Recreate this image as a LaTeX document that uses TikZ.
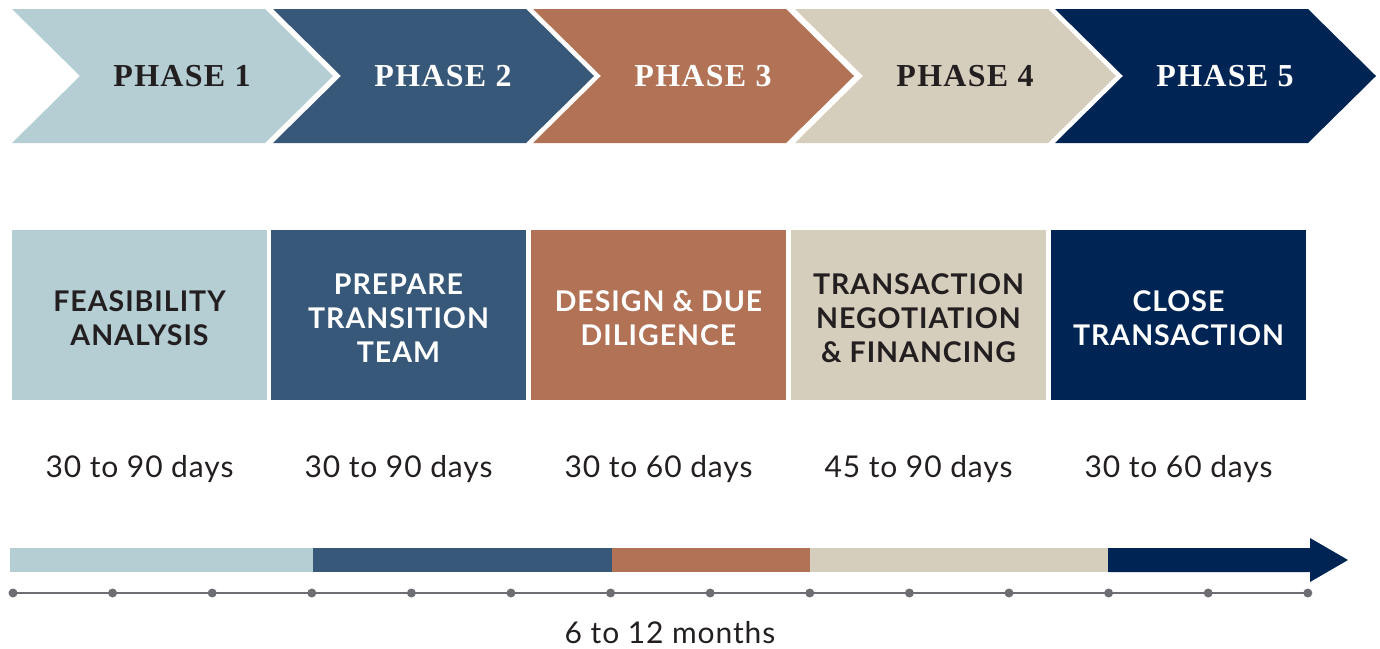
\documentclass[tikz,border=0pt]{standalone}
\usepackage{fontspec}
\setmainfont[LetterSpace=4]{Liberation Serif}
\newfontfamily\labelfont[LetterSpace=3.5]{Lato}
\newfontfamily\dayfont[LetterSpace=3]{Lato}
\usetikzlibrary{calc}

\definecolor{paleblue}{HTML}{B5CED4}
\definecolor{slateblue}{HTML}{38587A}
\definecolor{clay}{HTML}{B17256}
\definecolor{sand}{HTML}{D6CEBC}
\definecolor{navy}{HTML}{002554}
\definecolor{ink}{HTML}{231F20}
\definecolor{tickgray}{HTML}{6D6E71}

\tikzset{
  phasetext/.style={font=\fontsize{32}{34}\selectfont\bfseries, inner sep=0pt, anchor=center},
  boxtext/.style={font=\labelfont\fontsize{28.5}{34}\selectfont\bfseries, align=center, inner sep=0pt},
  daytext/.style={font=\dayfont\fontsize{30}{34}\selectfont, text=ink, inner sep=0pt},
  tick/.style={circle, fill=tickgray, minimum size=9pt, inner sep=0pt},
}

\begin{document}
\begin{tikzpicture}[x=1pt, y=-1pt]
\useasboundingbox (0,0) rectangle (1380,648);

% chevrons: left edge L, width 253, point depth 68, from y=9 to y=143
\foreach \i/\L/\col/\txt in {1/12/paleblue/ink, 2/273/slateblue/white, 3/533/clay/white, 4/795/sand/ink, 5/1055/navy/white}{
  \fill[\col] (\L,9) -- ({\L+253},9) -- ({\L+321},76) -- ({\L+253},143)
              -- (\L,143) -- ({\L+68},76) -- cycle;
  \node[phasetext, text=\txt] (ph\i) at ({\L+170},76) {PHASE \i};
}

% phase boxes
\foreach \i/\L/\col/\txt/\lab in {
  1/12/paleblue/ink/{FEASIBILITY\\ANALYSIS},
  2/271/slateblue/white/{PREPARE\\TRANSITION\\TEAM},
  3/531/clay/white/{DESIGN \& DUE\\DILIGENCE},
  4/791/sand/ink/{TRANSACTION\\NEGOTIATION\\\& FINANCING},
  5/1051/navy/white/{CLOSE\\TRANSACTION}}{
  \fill[\col] (\L,230) rectangle ({\L+255},400);
  \node[boxtext, text=\txt] (box\i) at ({\L+127.5},318) {\lab};
}

% durations
\node[daytext] (d1) at (139.5,469) {30 to 90 days};
\node[daytext] (d2) at (398.5,469) {30 to 90 days};
\node[daytext] (d3) at (658.5,469) {30 to 60 days};
\node[daytext] (d4) at (918.5,469) {45 to 90 days};
\node[daytext] (d5) at (1178.5,469) {30 to 60 days};

% timeline bar with arrow head
\fill[paleblue] (10,548) rectangle (313,572);
\fill[slateblue] (313,548) rectangle (612,572);
\fill[clay] (612,548) rectangle (810,572);
\fill[sand] (810,548) rectangle (1108,572);
\fill[navy] (1108,548) -- (1310,548) -- (1310,538) -- (1348,560) -- (1310,582)
            -- (1310,572) -- (1108,572) -- cycle;

% month scale
\foreach \k in {0,...,13}{
  \node[tick] (t\k) at ({13+\k*99.6},593) {};
}
\draw[tickgray, line width=2pt] (t0.center) -- (t13.center);
\node[daytext] (span) at (670,633) {6 to 12 months};
\end{tikzpicture}
\end{document}
